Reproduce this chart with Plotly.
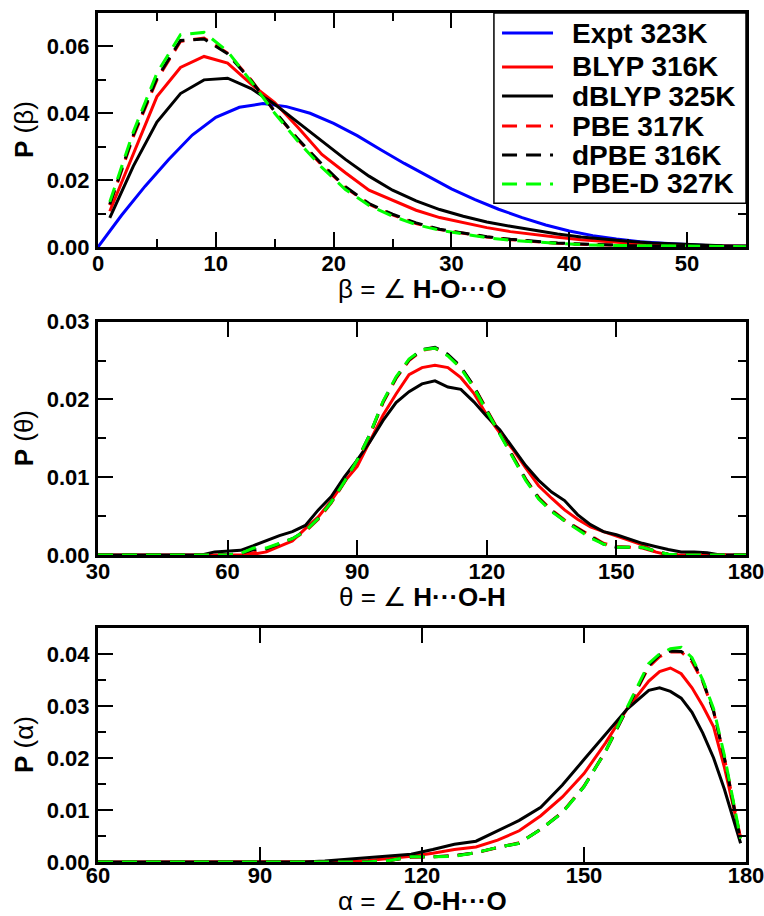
import plotly.graph_objects as go

# ---------------- Panel 1: beta = angle H-O...O ----------------
beta_expt = [0, 2, 4, 6, 8, 10, 12, 14, 16, 18, 20, 22, 24, 26, 28, 30, 32, 34, 36, 38, 40, 42, 44, 46, 48, 50, 52, 55]
expt_beta = [0.0, 0.0095, 0.0182, 0.0262, 0.0335, 0.0388, 0.0418, 0.0429, 0.0420, 0.0400, 0.0370, 0.0333,
             0.0291, 0.0250, 0.0212, 0.0174, 0.0142, 0.0113, 0.0088, 0.0066, 0.0048, 0.0034, 0.0024, 0.0016,
             0.0011, 0.0007, 0.0004, 0.0002]

beta_sim = [1, 3, 5, 7, 9, 11, 13, 15, 17, 19, 21, 23, 25, 27, 29, 31, 33, 35, 37, 39, 41, 43, 45, 47, 49, 51, 53, 55]
blyp_beta = [0.0107, 0.0280, 0.0450, 0.0537, 0.0570, 0.0550, 0.0487, 0.0432, 0.0357, 0.0277, 0.0222, 0.0170,
             0.0139, 0.0110, 0.0088, 0.0072, 0.0058, 0.0046, 0.0037, 0.0029, 0.0022, 0.0016, 0.0012, 0.0009,
             0.0006, 0.0004, 0.0003, 0.0002]
dblyp_beta = [0.0087, 0.0242, 0.0374, 0.0459, 0.0500, 0.0505, 0.0474, 0.0427, 0.0372, 0.0317, 0.0262, 0.0212,
              0.0170, 0.0138, 0.0112, 0.0092, 0.0075, 0.0062, 0.0050, 0.0039, 0.0030, 0.0023, 0.0017, 0.0012,
              0.0009, 0.0006, 0.0004, 0.0003]
pbe_beta = [0.0125, 0.0330, 0.0500, 0.0615, 0.0625, 0.0580, 0.0500, 0.0405, 0.0320, 0.0245, 0.0178, 0.0128,
            0.0096, 0.0070, 0.0052, 0.0040, 0.0030, 0.0022, 0.0016, 0.0011, 0.0008, 0.0006, 0.0004, 0.0003,
            0.0002, 0.0001, 0.0001, 0.0001]
dpbe_beta = [0.0128, 0.0335, 0.0505, 0.0618, 0.0622, 0.0578, 0.0498, 0.0405, 0.0322, 0.0248, 0.0180, 0.0130,
             0.0098, 0.0072, 0.0053, 0.0041, 0.0031, 0.0023, 0.0017, 0.0012, 0.0009, 0.0006, 0.0004, 0.0003,
             0.0002, 0.0001, 0.0001, 0.0001]
pbed_beta = [0.0135, 0.0345, 0.0520, 0.0635, 0.0642, 0.0585, 0.0495, 0.0400, 0.0315, 0.0238, 0.0172, 0.0124,
             0.0092, 0.0067, 0.0050, 0.0038, 0.0028, 0.0020, 0.0015, 0.0010, 0.0007, 0.0005, 0.0004, 0.0003,
             0.0002, 0.0001, 0.0001, 0.0001]

# ---------------- Panel 2: theta = angle H...O-H ----------------
theta = [30, 51, 54, 57, 60, 63, 66, 69, 72, 75, 78, 81, 84, 87, 90, 93, 96, 99, 102, 105, 108, 111, 114, 117,
         120, 123, 126, 129, 132, 135, 138, 141, 144, 147, 150, 153, 156, 159, 162, 165, 168, 171, 174, 177, 180]
blyp_theta = [0, 0, 0, 0, 0, 0, 0.0001, 0.0004, 0.0011, 0.0018, 0.0034, 0.0049, 0.0070, 0.0094, 0.0114, 0.0147,
              0.0180, 0.0207, 0.0232, 0.0241, 0.0244, 0.0241, 0.0228, 0.0208, 0.0180, 0.0157, 0.0136, 0.0112,
              0.0089, 0.0073, 0.0058, 0.0046, 0.0036, 0.0030, 0.0024, 0.0019, 0.0013, 0.0004, 0, 0, 0, 0, 0, 0, 0]
dblyp_theta = [0, 0, 0, 0.0004, 0.0005, 0.0006, 0.0012, 0.0019, 0.0025, 0.0030, 0.0038, 0.0058, 0.0075, 0.0100,
               0.0122, 0.0146, 0.0173, 0.0196, 0.0210, 0.0220, 0.0224, 0.0216, 0.0213, 0.0197, 0.0178, 0.0161,
               0.0138, 0.0115, 0.0096, 0.0081, 0.0070, 0.0052, 0.0039, 0.0030, 0.0026, 0.0020, 0.0015, 0.0011,
               0.0007, 0.0004, 0.0004, 0.0003, 0, 0, 0]
pbe_theta = [0, 0, 0, 0, 0, 0, 0.0003, 0.0006, 0.0013, 0.0020, 0.0030, 0.0046, 0.0067, 0.0093, 0.0121, 0.0155,
             0.0196, 0.0227, 0.0250, 0.0263, 0.0266, 0.0257, 0.0241, 0.0217, 0.0187, 0.0157, 0.0128, 0.0098,
             0.0074, 0.0058, 0.0045, 0.0035, 0.0024, 0.0015, 0.0011, 0.0010, 0.0009, 0.0004, 0.0001, 0, 0, 0, 0, 0, 0]
dpbe_theta = [0, 0, 0, 0, 0, 0.0002, 0.0007, 0.0008, 0.0014, 0.0021, 0.0031, 0.0047, 0.0068, 0.0094, 0.0122,
              0.0156, 0.0197, 0.0228, 0.0251, 0.0264, 0.0267, 0.0258, 0.0242, 0.0217, 0.0186, 0.0156, 0.0127,
              0.0097, 0.0073, 0.0057, 0.0044, 0.0034, 0.0023, 0.0014, 0.0010, 0.0010, 0.0010, 0.0005, 0.0001,
              0, 0, 0, 0, 0, 0]
pbed_theta = [0, 0, 0, 0, 0, 0.0002, 0.0009, 0.0009, 0.0015, 0.0021, 0.0031, 0.0047, 0.0068, 0.0094, 0.0122,
              0.0156, 0.0198, 0.0229, 0.0252, 0.0264, 0.0266, 0.0256, 0.0240, 0.0215, 0.0185, 0.0155, 0.0126,
              0.0096, 0.0072, 0.0056, 0.0044, 0.0033, 0.0022, 0.0014, 0.0010, 0.0010, 0.0010, 0.0005, 0.0001,
              0, 0, 0, 0, 0, 0]

# ---------------- Panel 3: alpha = angle O-H...O ----------------
alpha = [60, 98, 102, 106, 110, 114, 118, 122, 126, 130, 134, 138, 142, 146, 150, 154, 158, 162, 164, 166, 168,
         170, 172, 174, 176, 179]
blyp_alpha = [0, 0, 0, 0.0001, 0.0003, 0.0007, 0.0011, 0.0017, 0.0024, 0.0029, 0.0042, 0.0060, 0.0089, 0.0125,
              0.0170, 0.0229, 0.0295, 0.0348, 0.0366, 0.0373, 0.0362, 0.0335, 0.0300, 0.0260, 0.0182, 0.0046]
dblyp_alpha = [0, 0, 0.0002, 0.0005, 0.0008, 0.0011, 0.0015, 0.0024, 0.0034, 0.0040, 0.0060, 0.0080, 0.0105,
               0.0148, 0.0197, 0.0245, 0.0294, 0.0330, 0.0335, 0.0328, 0.0315, 0.0288, 0.0248, 0.0200, 0.0140,
               0.0036]
pbe_alpha = [0, 0, 0, 0, 0, 0.0003, 0.0009, 0.0010, 0.0012, 0.0018, 0.0028, 0.0037, 0.0063, 0.0096, 0.0146,
             0.0213, 0.0295, 0.0375, 0.0395, 0.0404, 0.0404, 0.0385, 0.0346, 0.0290, 0.0200, 0.0045]
dpbe_alpha = [0, 0, 0, 0, 0, 0.0003, 0.0010, 0.0010, 0.0012, 0.0018, 0.0028, 0.0036, 0.0063, 0.0095, 0.0145,
              0.0213, 0.0296, 0.0378, 0.0398, 0.0406, 0.0405, 0.0390, 0.0348, 0.0290, 0.0200, 0.0040]
pbed_alpha = [0, 0, 0, 0, 0, 0.0003, 0.0010, 0.0010, 0.0011, 0.0018, 0.0028, 0.0036, 0.0063, 0.0095, 0.0145,
              0.0213, 0.0296, 0.0382, 0.0400, 0.0410, 0.0413, 0.0393, 0.0350, 0.0295, 0.0205, 0.0045]

names = ["Expt 323K", "BLYP 316K", "dBLYP 325K", "PBE 317K", "dPBE 316K", "PBE-D 327K"]
colors = ["#0000ff", "#ff0000", "#000000", "#ff0000", "#000000", "#00ff00"]
dashes = ["solid", "solid", "solid", "15px,9px", "15px,9px", "15px,9px"]

SERIF = "'Liberation Serif', 'DejaVu Serif', serif"
SANS = "'Liberation Sans', Arial, Helvetica, sans-serif"

fig = go.Figure()

panels = [
    (1, beta_sim, [blyp_beta, dblyp_beta, pbe_beta, dpbe_beta, pbed_beta]),
    (2, theta, [blyp_theta, dblyp_theta, pbe_theta, dpbe_theta, pbed_theta]),
    (3, alpha, [blyp_alpha, dblyp_alpha, pbe_alpha, dpbe_alpha, pbed_alpha]),
]

fig.add_trace(go.Scatter(x=beta_expt, y=expt_beta, mode="lines", name=names[0],
                         line=dict(color=colors[0], width=3, dash=dashes[0]),
                         xaxis="x", yaxis="y", showlegend=False))
for idx, xs, series in panels:
    for k, ys in enumerate(series):
        fig.add_trace(go.Scatter(
            x=xs, y=ys, mode="lines", name=names[k + 1],
            line=dict(color=colors[k + 1], width=3, dash=dashes[k + 1]),
            xaxis="x" if idx == 1 else f"x{idx}",
            yaxis="y" if idx == 1 else f"y{idx}",
            showlegend=False))

H = 849.0
dom1 = [(862 - 247) / H, 1.0]
dom2 = [(862 - 555) / H, (862 - 321.7) / H]
dom3 = [0.0, 234 / H]


def xax(rng, dtick, minor_dtick, anchor, standoff=-5):
    d = dict(range=rng, dtick=dtick, tick0=0, showline=True, linewidth=3, linecolor="black",
             mirror="ticks", ticks="inside", ticklen=15, tickwidth=2, tickcolor="black",
             showgrid=False, zeroline=False, anchor=anchor, automargin=False,
             ticklabeloverflow="allow",
             tickfont=dict(family=SANS, size=22, color="black", weight="bold"),
             ticklabelstandoff=standoff)
    if minor_dtick:
        d["minor"] = dict(dtick=minor_dtick, ticks="inside", ticklen=8, tickwidth=2, tickcolor="black",
                          showgrid=False)
    return d


def yax(rng, dtick, minor_dtick, anchor, domain):
    return dict(range=rng, dtick=dtick, tick0=0, tickformat=".2f", showline=True, linewidth=3,
                linecolor="black", mirror="ticks", ticks="inside", ticklen=15, tickwidth=2,
                tickcolor="black", showgrid=False, zeroline=False, anchor=anchor, domain=domain,
                automargin=False, ticklabeloverflow="allow",
                tickfont=dict(family=SANS, size=22, color="black", weight="bold"),
                ticklabelstandoff=1,
                minor=dict(dtick=minor_dtick, ticks="inside", ticklen=8, tickwidth=2, tickcolor="black",
                           showgrid=False))


def xtitle(greek, rest):
    return f"<span style='font-family:{SERIF}'>{greek} = ∠ </span><b>{rest}</b>"


def ytitle(greek):
    return f"<b>P</b> <span style='font-family:{SERIF}'>({greek})</span>"


annotations = []
# axis titles placed around each panel
for sfx, greek, rest, ysh in [("", "β", "H-O···O", -42), ("2", "θ", "H···O-H", -42), ("3", "α", "O-H···O", -39)]:
    annotations.append(dict(xref=f"x{sfx} domain", yref=f"y{sfx} domain", x=0.5, y=0,
                            xanchor="center", yanchor="middle", yshift=ysh, showarrow=False,
                            text=xtitle(greek, rest), font=dict(family=SANS, size=26, color="black")))
    annotations.append(dict(xref=f"x{sfx} domain", yref=f"y{sfx} domain", x=0, y=0.5,
                            xanchor="center", yanchor="middle", xshift=-74, textangle=-90,
                            showarrow=False, text=ytitle(greek),
                            font=dict(family=SANS, size=26, color="black")))

# ---- legend drawn in the top panel (paper coordinates of the plotting area) ----
leg_x0, leg_x1, leg_y0, leg_y1 = 0.611, 1.0, 0.776, 1.0
leg_rows = [0.9764, 0.9364, 0.9022, 0.8669, 0.8327, 0.7986]
line_x0, line_x1, text_x = 0.6235, 0.7022, 0.7284

shapes = [dict(type="rect", xref="paper", yref="paper", x0=leg_x0, x1=leg_x1, y0=leg_y0, y1=leg_y1,
               fillcolor="white", line=dict(color="black", width=1.5), layer="above")]
for name, col, dsh, yy in zip(names, colors, dashes, leg_rows):
    shapes.append(dict(type="line", xref="paper", yref="paper", x0=line_x0, x1=line_x1, y0=yy, y1=yy,
                       line=dict(color=col, width=3, dash=dsh), layer="above"))
    annotations.append(dict(xref="paper", yref="paper", x=text_x, y=yy, xanchor="left", yanchor="middle",
                            text=f"<b>{name}</b>", showarrow=False,
                            font=dict(family=SANS, size=28, color="black")))

fig.update_layout(
    width=764, height=916,
    margin=dict(l=98, r=18, t=13, b=54),
    paper_bgcolor="white", plot_bgcolor="white",
    xaxis=xax([0, 55], 10, 5, "y"),
    yaxis=yax([0, 0.07], 0.02, 0.01, "x", dom1),
    xaxis2=xax([30, 180], 30, None, "y2"),
    yaxis2=yax([0, 0.03], 0.01, 0.005, "x2", dom2),
    xaxis3=xax([60, 180], 30, None, "y3", standoff=-8),
    yaxis3=yax([0, 0.045], 0.01, 0.005, "x3", dom3),
    shapes=shapes,
    annotations=annotations,
    showlegend=False,
)

fig.write_html("out.html")
